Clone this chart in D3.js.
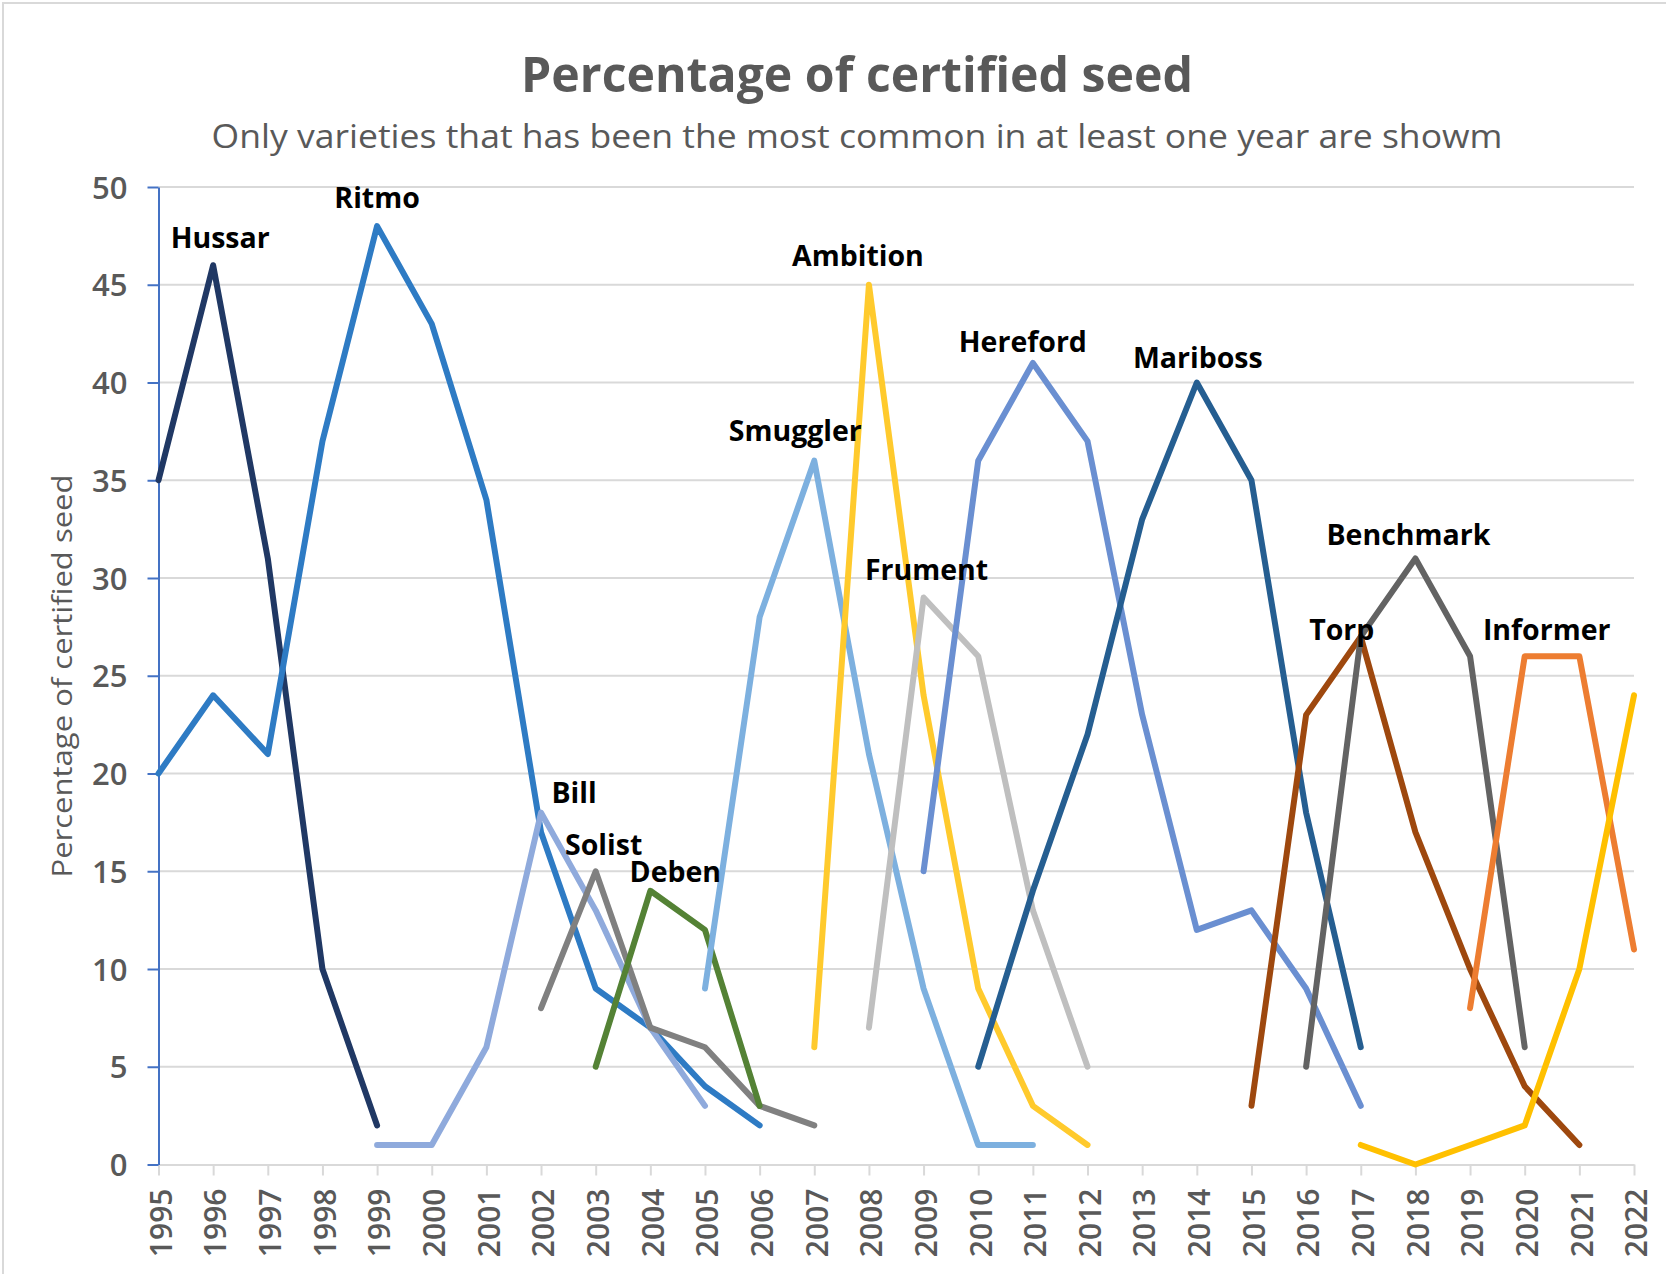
<!DOCTYPE html>
<html>
<head>
<meta charset="utf-8">
<script src="https://cdn.jsdelivr.net/npm/d3@7"></script>
<style>
  html, body { margin: 0; padding: 0; background: #fff; }
  svg { display: block; }
</style>
</head>
<body>
<svg id="chart" width="1666" height="1274"></svg>
<script>
// ---------- DATA ----------
const years = d3.range(1995, 2023);
const yTicks = [0, 5, 10, 15, 20, 25, 30, 35, 40, 45, 50];

const seriesNames = ["Hussar", "Ritmo", "Bill", "Solist", "Deben", "Smuggler", "Ambition",
  "Frument", "Hereford", "Mariboss", "Torp", "Benchmark", "Informer", ""];

const hussar    = [[1995,35],[1996,46],[1997,31],[1998,10],[1999,2]];
const ritmo     = [[1995,20],[1996,24],[1997,21],[1998,37],[1999,48],[2000,43],[2001,34],[2002,17],[2003,9],[2004,7],[2005,4],[2006,2]];
const bill      = [[1999,1],[2000,1],[2001,6],[2002,18],[2003,13],[2004,7],[2005,3]];
const solist    = [[2002,8],[2003,15],[2004,7],[2005,6],[2006,3],[2007,2]];
const deben     = [[2003,5],[2004,14],[2005,12],[2006,3]];
const smuggler  = [[2005,9],[2006,28],[2007,36],[2008,21],[2009,9],[2010,1],[2011,1]];
const ambition  = [[2007,6],[2008,45],[2009,24],[2010,9],[2011,3],[2012,1]];
const frument   = [[2008,7],[2009,29],[2010,26],[2011,13],[2012,5]];
const hereford  = [[2009,15],[2010,36],[2011,41],[2012,37],[2013,23],[2014,12],[2015,13],[2016,9],[2017,3]];
const mariboss  = [[2010,5],[2011,14],[2012,22],[2013,33],[2014,40],[2015,35],[2016,18],[2017,6]];
const torp      = [[2015,3],[2016,23],[2017,27],[2018,17],[2019,10],[2020,4],[2021,1]];
const benchmark = [[2016,5],[2017,27],[2018,31],[2019,26],[2020,6]];
const informer  = [[2019,8],[2020,26],[2021,26],[2022,11]];
const unnamed   = [[2017,1],[2018,0],[2019,1],[2020,2],[2021,10],[2022,24]];

const seriesValues = [hussar, ritmo, bill, solist, deben, smuggler, ambition,
  frument, hereford, mariboss, torp, benchmark, informer, unnamed];

// label anchor years (the label sits near this point of the series)
const labelAnchorYears = [1996, 1999, 2002, 2003, 2004, 2007, 2008, 2009, 2011, 2014, 2017, 2018, 2020, null];

// ---------- STYLE ----------
const colors = ["#203864", "#2E7BC4", "#8FAADC", "#808080", "#548235", "#7DB0DF", "#FFCA2D",
  "#BFBFBF", "#6A8FD1", "#255E91", "#9E480E", "#636363", "#ED7D31", "#FFC000"];
const labelOffsets = [[7,-17],[0,-18],[33,-10],[8,-16],[25,-9],[-19,-20],[-11,-19],
  [3,-18],[-10,-11],[1,-15],[-19,3],[-7,-13],[22,-16],[0,0]];

const W = 1666, H = 1274;
const plot = { left: 158.5, right: 1634, top: 187, bottom: 1164.5 };
const textGray = "#595959";
const gridColor = "#D9D9D9";

const svg = d3.select("#chart");

// outer border
svg.append("rect").attr("x", 3).attr("y", 3).attr("width", W + 20).attr("height", H + 20)
  .attr("fill", "#fff").attr("stroke", "#D9D9D9").attr("stroke-width", 2);

const x = d3.scaleLinear().domain([1995, 2022]).range([plot.left, plot.right]);
const y = d3.scaleLinear().domain([0, 50]).range([plot.bottom, plot.top]);

function fitText(sel, width) {
  sel.attr("textLength", width).attr("lengthAdjust", "spacingAndGlyphs");
}

// title
svg.append("text").attr("x", 857).attr("y", 92).attr("text-anchor", "middle")
  .attr("font-family", "Open Sans").attr("font-weight", "bold").attr("font-size", 48)
  .attr("fill", textGray).text("Percentage of certified seed").call(fitText, 672);

svg.append("text").attr("x", 857).attr("y", 148).attr("text-anchor", "middle")
  .attr("font-family", "Open Sans").attr("font-size", 32)
  .attr("fill", textGray).text("Only varieties that has been the most common in at least one year are showm")
  .call(fitText, 1291);

// y-axis title
svg.append("text").attr("transform", `translate(72,676) rotate(-90)`)
  .attr("text-anchor", "middle").attr("font-family", "Open Sans").attr("font-size", 28)
  .attr("fill", textGray).text("Percentage of certified seed").call(fitText, 403);

// gridlines
svg.append("g").selectAll("line").data(yTicks.filter(d => d > 0)).join("line")
  .attr("x1", plot.left).attr("x2", plot.right)
  .attr("y1", d => y(d)).attr("y2", d => y(d))
  .attr("stroke", gridColor).attr("stroke-width", 2);

// x axis
const xAxis = d3.axisBottom(x).tickValues(years).tickFormat(d3.format("d")).tickSize(11).tickSizeOuter(0);
const gx = svg.append("g").attr("transform", `translate(0,${plot.bottom})`).call(xAxis);
gx.select(".domain").attr("stroke", gridColor).attr("stroke-width", 2);
gx.selectAll(".tick line").attr("stroke", gridColor).attr("stroke-width", 2);
gx.selectAll(".tick text")
  .attr("transform", "translate(2,24) rotate(-90)")
  .attr("x", 0).attr("y", 0).attr("dy", "0.36em")
  .attr("text-anchor", "end")
  .attr("font-family", "Open Sans").attr("font-weight", 600).attr("font-size", 30)
  .attr("fill", textGray);

// y axis
const yAxis = d3.axisLeft(y).tickValues(yTicks).tickSize(11).tickSizeOuter(0).tickPadding(20);
const gy = svg.append("g").attr("transform", `translate(${plot.left},0)`).call(yAxis);
gy.select(".domain").attr("stroke", "#4472C4").attr("stroke-width", 2);
gy.selectAll(".tick line").attr("stroke", "#4472C4").attr("stroke-width", 2);
gy.selectAll(".tick text")
  .attr("font-family", "Open Sans").attr("font-weight", 600).attr("font-size", 31)
  .attr("fill", textGray).attr("dy", "0.36em");

// lines
const line = d3.line().x(d => x(d[0])).y(d => y(d[1]));
svg.append("g").selectAll("path").data(seriesValues).join("path")
  .attr("d", d => line(d))
  .attr("fill", "none")
  .attr("stroke", (d, i) => colors[i])
  .attr("stroke-width", 6)
  .attr("stroke-linecap", "round")
  .attr("stroke-linejoin", "round");

// labels
const labelData = seriesNames.map((name, i) => ({ name, i, year: labelAnchorYears[i] }))
  .filter(d => d.name && d.year != null);
svg.append("g").selectAll("text").data(labelData).join("text")
  .attr("x", d => x(d.year) + labelOffsets[d.i][0])
  .attr("y", d => {
    const pt = seriesValues[d.i].find(p => p[0] === d.year);
    return y(pt[1]) + labelOffsets[d.i][1];
  })
  .attr("text-anchor", "middle")
  .attr("font-family", "Open Sans").attr("font-weight", "bold").attr("font-size", 28.5)
  .attr("fill", "#000")
  .text(d => d.name);
</script>
</body>
</html>
